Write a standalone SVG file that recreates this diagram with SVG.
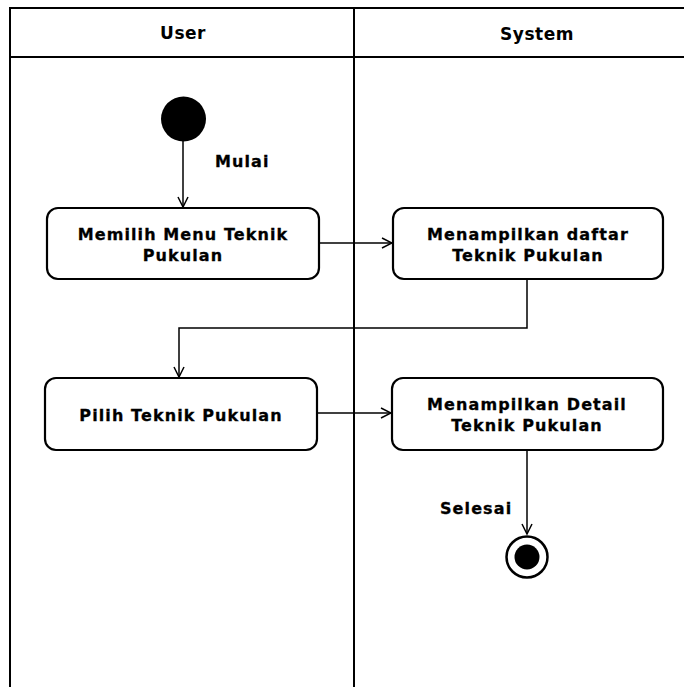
<svg xmlns="http://www.w3.org/2000/svg" width="684" height="687" viewBox="0 0 684 687">
<defs>
<style>
.t{font-family:"DejaVu Sans",Verdana,sans-serif;font-weight:bold;font-size:16px;fill:#000;text-anchor:middle;letter-spacing:1.1px;stroke:#000;stroke-width:0.3}
.h{font-family:"DejaVu Sans",Verdana,sans-serif;font-weight:bold;font-size:17px;fill:#000;text-anchor:middle;letter-spacing:0.5px}
.lbl{font-family:"DejaVu Sans",Verdana,sans-serif;font-weight:bold;font-size:16px;fill:#000;letter-spacing:1.1px;stroke:#000;stroke-width:0.3}
.box{fill:#fff;stroke:#000;stroke-width:2.2}
.ln{fill:none;stroke:#000;stroke-width:1.5}
.frame{fill:none;stroke:#000;stroke-width:2}
</style>
<marker id="arr" viewBox="0 0 12 12" refX="11" refY="6" markerWidth="12" markerHeight="12" markerUnits="userSpaceOnUse" orient="auto">
<path d="M1,1 L11,6 L1,11" fill="none" stroke="#000" stroke-width="1.5"/>
</marker>
</defs>
<rect width="684" height="687" fill="#fff"/>
<g id="lanes">
<path class="frame" d="M10,687 V8 H684 M10,57 H684 M354,8 V687"/>
<text class="h" x="183" y="39">User</text>
<text class="h" x="537" y="40">System</text>
</g>
<g id="connectors">
<path class="ln" d="M183,140 V207" marker-end="url(#arr)"/>
<path class="ln" d="M319,243 H392" marker-end="url(#arr)"/>
<path class="ln" d="M527,279 V328 H179 V377" marker-end="url(#arr)"/>
<path class="ln" d="M317,413 H391" marker-end="url(#arr)"/>
<path class="ln" d="M527,450 V534" marker-end="url(#arr)"/>
<text class="lbl" x="215" y="167">Mulai</text>
<text class="lbl" x="440" y="514">Selesai</text>
</g>
<g id="start">
<circle cx="183.5" cy="119" r="22.5" fill="#000"/>
</g>
<g id="n1">
<rect class="box" x="47" y="208" width="272" height="71" rx="11"/>
<text class="t" x="183" y="240">Memilih Menu Teknik</text>
<text class="t" x="183" y="261">Pukulan</text>
</g>
<g id="n2">
<rect class="box" x="393" y="208" width="270" height="71" rx="11"/>
<text class="t" x="528" y="240">Menampilkan daftar</text>
<text class="t" x="528" y="261">Teknik Pukulan</text>
</g>
<g id="n3">
<rect class="box" x="45" y="378" width="272" height="72" rx="11"/>
<text class="t" x="181" y="421">Pilih Teknik Pukulan</text>
</g>
<g id="n4">
<rect class="box" x="392" y="378" width="271" height="72" rx="11"/>
<text class="t" x="527" y="410">Menampilkan Detail</text>
<text class="t" x="527" y="431">Teknik Pukulan</text>
</g>
<g id="end">
<circle cx="527" cy="557" r="20.5" fill="#fff" stroke="#000" stroke-width="2.5"/>
<circle cx="527" cy="557" r="12.5" fill="#000"/>
</g>
</svg>
